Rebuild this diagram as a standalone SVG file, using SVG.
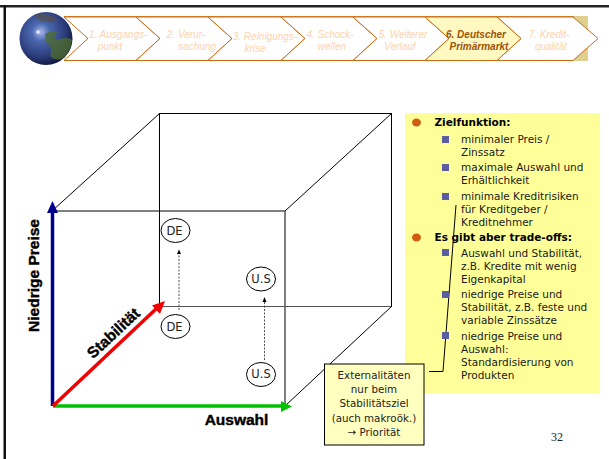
<svg xmlns="http://www.w3.org/2000/svg" width="609" height="459" viewBox="0 0 609 459">
<style>
.chev{fill:#fff;stroke:#cc6a10;stroke-width:1}
.nav{font:italic 10px "Liberation Sans",sans-serif;fill:#fdd3ae;text-anchor:middle}
.navb{font:italic bold 10px "Liberation Sans",sans-serif;fill:#9c5208;text-anchor:middle}
.cube{fill:none;stroke:#000;stroke-width:1}
.t{font:10.5px "DejaVu Sans",Tahoma,sans-serif;fill:#1a1a1a}
.h{font:bold 10.5px "DejaVu Sans",Tahoma,sans-serif;fill:#000}
.c{font:10.3px "DejaVu Sans",Tahoma,sans-serif;fill:#222;text-anchor:middle}
.o{font:11.500px "DejaVu Sans",Tahoma,sans-serif;fill:#222;text-anchor:middle}
.ax{font:bold 15.500px "Liberation Sans",sans-serif;fill:#000;stroke:#000;stroke-width:.4;text-anchor:middle}
.sq{fill:#5c5ca0}
.bl{fill:#d05c10}
.oval{fill:#fff;stroke:#000;stroke-width:1}
.dash{stroke:#222;stroke-width:.8;stroke-dasharray:2 1.5;fill:none}
</style>
<defs>
<radialGradient id="g" cx="0.4" cy="0.38" r="0.68"><stop offset="0" stop-color="#a8b8e8"/><stop offset="0.25" stop-color="#4a68b0"/><stop offset="0.7" stop-color="#2a3a78"/><stop offset="1" stop-color="#0c1030"/></radialGradient>
</defs>
<rect width="609" height="459" fill="#fff"/>
<g id="frame"><rect x="0" y="5" width="609" height="2.5" fill="#222"/><rect x="3.500" y="5" width="2.500" height="454" fill="#111"/></g>
<g id="nav">
<rect x="570" y="16" width="18" height="45" fill="#e0d090"/>
<rect x="64" y="16" width="510" height="2" fill="#cc8a3a"/>
<path id="n7" class="chev" d="M497 17H573L598 38.500L573 60.500H497L521 38.500Z"/>
<path id="n1" class="chev" d="M64 17H136L160 38.500L136 60.500H64L88 38.500Z"/>
<path id="n2" class="chev" d="M136 17H208L232 38.500L208 60.500H136L160 38.500Z"/>
<path id="n3" class="chev" d="M208 17H281L305 38.500L281 60.500H208L232 38.500Z"/>
<path id="n4" class="chev" d="M281 17H353L377 38.500L353 60.500H281L305 38.500Z"/>
<path id="n5" class="chev" d="M353 17H425L449 38.500L425 60.500H353L377 38.500Z"/>
<path id="n6" class="chev" d="M425 17H497L521 38.500L497 60.500H425L449 38.500Z" style="fill:#fff8c0"/>
<text class="nav" x="118" y="38">1. Ausgangs-</text><text class="nav" x="110" y="50">punkt</text>
<text class="nav" x="186" y="38">2. Verur-</text><text class="nav" x="197" y="50">sachung</text>
<text class="nav" x="265" y="40">3. Reinigungs-</text><text class="nav" x="255" y="52">krise</text>
<text class="nav" x="330" y="38">4. Schock-</text><text class="nav" x="332" y="50">wellen</text>
<text class="nav" x="403" y="38">5. Weiterer</text><text class="nav" x="400" y="50">Verlauf</text>
<text class="navb" x="476" y="38">6. Deutscher</text><text class="navb" x="479" y="50">Primärmarkt</text>
<text class="nav" x="549" y="38">7. Kredit-</text><text class="nav" x="551" y="50">qualität</text>
</g>
<g id="globe">
<circle cx="46" cy="38.500" r="26.500" fill="url(#g)"/>
<path d="M45 34Q50 30 58 32Q52 36 56 40Q68 36 72 40Q71 50 64 58Q56 62 50 56Q54 48 46 42Z" fill="#4e6a30" opacity=".8"/>
<path d="M34 15Q44 12 58 19Q52 24 40 21Z" fill="#5a5040" opacity=".6"/>
<circle cx="38" cy="32" r="2" fill="#d8e0ff"/>
</g>
<g id="tipbox"><rect x="405" y="113" width="195" height="280" fill="#ffff99"/></g>
<g id="cube">
<rect class="cube" x="159.500" y="113.500" width="232" height="193"/>
<path class="cube" d="M52 211H285M159.500 113.500L52 211M391.500 113.500L285 211M391.500 306.500L285 406"/>
<path d="M285 211V405" stroke="#555" stroke-width="1.500" fill="none"/>
<path d="M159 306.500H391" stroke="#555" stroke-width="1" fill="none"/>
</g>
<g id="connectors">
<path class="dash" d="M179 310V255"/><path d="M179 249.500L177 254H181Z" fill="#000"/>
<path class="dash" d="M264.500 360V301"/><path d="M264.500 297L262.500 302H266.500Z" fill="#000"/>
<path d="M52.500 406V208" stroke="#000090" stroke-width="3.500"/><path d="M52.500 201L47 213H58Z" fill="#000090"/>
<path d="M53 406H284" stroke="#00c000" stroke-width="3.500"/><path d="M292 406.500L281 401V412Z" fill="#00c000"/>
<path d="M53 406L157 308" stroke="#f00000" stroke-width="3.500"/><path d="M165 301L152 305.500L160 314Z" fill="#f00000"/>
<path d="M429 371.500H443L456 205" stroke="#000" stroke-width="1" fill="none"/>
</g>
<g id="n-de-top"><ellipse class="oval" cx="175.500" cy="230.500" rx="14.500" ry="12"/><text class="o" x="174.500" y="234.500">DE</text></g>
<g id="n-de-bot"><ellipse class="oval" cx="175.500" cy="326.500" rx="14.500" ry="12"/><text class="o" x="174.500" y="330.500">DE</text></g>
<g id="n-us-top"><ellipse class="oval" cx="261" cy="279" rx="14.500" ry="12"/><text class="o" x="261" y="282.500">U.S</text></g>
<g id="n-us-bot"><ellipse class="oval" cx="261" cy="374.500" rx="14.500" ry="12"/><text class="o" x="261" y="378">U.S</text></g>
<g id="labels">
<text class="ax" transform="translate(38.500 275.500) rotate(-90)">Niedrige Preise</text>
<text class="ax" x="236.500" y="425">Auswahl</text>
<text class="ax" transform="translate(117 337) rotate(-43)">Stabilität</text>
</g>
<g id="tiptext">
<ellipse class="bl" cx="416.500" cy="122.500" rx="4.500" ry="4"/>
<text class="h" x="434.500" y="126">Zielfunktion:</text>
<rect class="sq" x="442" y="136" width="7" height="7"/>
<text class="t" x="461" y="143">minimaler Preis /</text><text class="t" x="461" y="156">Zinssatz</text>
<rect class="sq" x="442" y="164" width="7" height="7"/>
<text class="t" x="461" y="171">maximale Auswahl und</text><text class="t" x="461" y="184">Erhältlichkeit</text>
<rect class="sq" x="442" y="193" width="7" height="7"/>
<text class="t" x="461" y="200">minimale Kreditrisiken</text><text class="t" x="461" y="213">für Kreditgeber /</text><text class="t" x="461" y="226">Kreditnehmer</text>
<ellipse class="bl" cx="416.500" cy="237.500" rx="4.500" ry="4"/>
<text class="h" x="434.500" y="241">Es gibt aber trade-offs:</text>
<rect class="sq" x="442" y="249" width="7" height="7"/>
<text class="t" x="461" y="257">Auswahl und Stabilität,</text><text class="t" x="461" y="270">z.B. Kredite mit wenig</text><text class="t" x="461" y="283">Eigenkapital</text>
<rect class="sq" x="442" y="291" width="7" height="7"/>
<text class="t" x="461" y="298">niedrige Preise und</text><text class="t" x="461" y="311">Stabilität, z.B. feste und</text><text class="t" x="461" y="324">variable Zinssätze</text>
<rect class="sq" x="442" y="332" width="7" height="7"/>
<text class="t" x="461" y="340">niedrige Preise und</text><text class="t" x="461" y="353">Auswahl:</text><text class="t" x="461" y="366">Standardisierung von</text><text class="t" x="461" y="379">Produkten</text>
</g>
<g id="note">
<rect x="324.500" y="364" width="99.500" height="81" fill="#ffffc0" stroke="#000" stroke-width="1"/>
<text class="c" x="374" y="379">Externalitäten</text>
<text class="c" x="374" y="393">nur beim</text>
<text class="c" x="374" y="407">Stabilitätsziel</text>
<text class="c" x="374" y="422">(auch makroök.)</text>
<text class="c" x="374" y="436">→ Priorität</text>
</g>
<text id="page" x="551" y="441" style="font:12px 'Liberation Serif',serif;fill:#222">32</text>
</svg>
